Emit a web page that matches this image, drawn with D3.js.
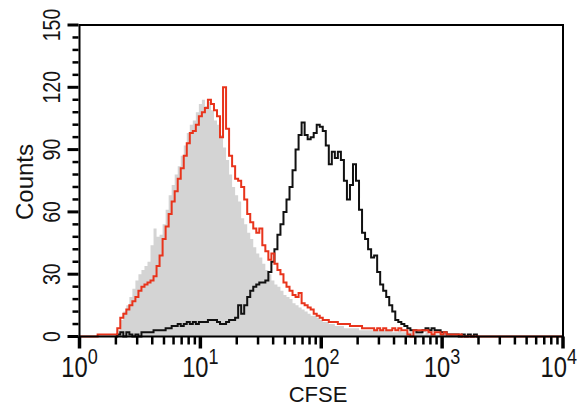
<!DOCTYPE html>
<html>
<head>
<meta charset="utf-8">
<script src="https://cdn.jsdelivr.net/npm/d3@7"></script>
<style>
  html, body { margin: 0; padding: 0; background: #fff; }
  svg { display: block; }
  text { font-family: "Liberation Sans", Arial, Helvetica, sans-serif; fill: #141414; }
</style>
</head>
<body>
<svg id="chart" width="578" height="408"></svg>
<script>
// CFSE histogram channels: log10 of the first channel and spacing between channels
const channelLog0 = 0.30;
const channelLogStep = 0.025;

// Unstained control (grey filled histogram)
const controlCounts = [
  1,3,8,12,15,19,23,27,30,32,34,36,44,52,48,49,54,61,68,73,78,
  82,87,92,98,102,104,108,112,114,111,113,109,104,102,97,91,85,78,72,68,
  65,57,54,50,47,43,40,38,35,32,30,27,25,24,22,20,19,18,16,15,
  14,13,12,11,10,10,9,8,7,7,6,6,5,5,5,4,4,4,4,4,
  3,3,3,3,3,3,3,3,3,3,3,2,2,3,2,2,2,2,2,2,
  2,1,2,1,1,1,1,1,1,0,1,0,0,0,0,0,0,0,0,0
];

// Divided cells (red line)
const dividedCounts = [
  1,4,9,11,13,15,17,19,22,24,25,26,27,29,34,39,47,53,59,65,70,
  76,81,87,93,98,99,102,106,108,110,114,112,109,106,96,120,100,87,82,76,
  75,72,66,59,55,52,50,52,44,41,37,40,35,32,30,26,24,22,20,19,
  21,16,15,14,13,11,10,9,8,8,7,7,7,6,6,6,6,5,5,5,
  5,4,4,4,4,3,4,3,4,3,3,4,3,4,3,3,1,0,3,3,
  3,3,3,2,1,2,2,1,2,1,1,1,1,1,0,0,0,0,0,0
];

// Undivided cells (black line)
const undividedCounts = [
  0,1,2,0,2,1,0,1,0,2,2,2,2,3,3,3,3,4,4,5,5,
  6,5,6,7,6,7,6,7,7,7,8,8,8,7,6,6,7,8,8,9,
  15,11,15,19,22,24,25,26,26,27,31,36,42,49,54,60,66,72,80,90,
  97,103,97,95,96,98,102,101,99,92,83,89,86,89,85,75,66,73,83,75,
  61,50,47,42,38,39,31,25,22,19,15,12,8,7,6,5,4,3,3,2,
  2,3,4,3,4,3,3,2,2,1,1,1,1,0,1,0,1,0,1,0
];

const xDecades = [0, 1, 2, 3, 4];
const yTicks = [0, 30, 60, 90, 120, 150];
const yMinorStep = 6;
const xLabel = "CFSE";
const yLabel = "Counts";

const svg = d3.select("#chart");
const W = 578;
const plotL = 79.5, plotR = 563, plotT = 25, plotB = 336.5;

const x = d3.scaleLog().domain([1, 1e4]).range([plotL, plotR]);
const y = d3.scaleLinear().domain([0, 150]).range([plotB, plotT]);

const channel = i => Math.pow(10, channelLog0 + channelLogStep * i);
const toPoints = arr => arr.map((c, i) => [channel(i), c]);

// Grey filled control histogram
const area = d3.area()
  .x(d => x(d[0])).y0(y(0)).y1(d => y(d[1]))
  .curve(d3.curveStep);
svg.append("path")
  .datum(toPoints(controlCounts))
  .attr("d", area)
  .attr("fill", "#d4d4d4");

const line = d3.line()
  .x(d => x(d[0])).y(d => y(d[1]))
  .curve(d3.curveStep);

svg.append("path")
  .datum(toPoints(undividedCounts))
  .attr("d", line)
  .attr("fill", "none")
  .attr("stroke", "#111")
  .attr("stroke-width", 2);

// Red line runs along the baseline across the full range
const redPts = [[1, 0], ...toPoints(dividedCounts), [1e4, 0]];
svg.append("path")
  .datum(redPts)
  .attr("d", line)
  .attr("fill", "none")
  .attr("stroke", "#e8341c")
  .attr("stroke-width", 2);

// Frame
svg.append("rect")
  .attr("x", plotL).attr("y", plotT)
  .attr("width", plotR - plotL).attr("height", plotB - plotT)
  .attr("fill", "none").attr("stroke", "#000").attr("stroke-width", 2);

// X axis ticks (major decades and minor 2..9)
const xMajor = xDecades.map(d => Math.pow(10, d));
const xMinor = [];
for (let d = 0; d < 4; d++) for (let m = 2; m <= 9; m++) xMinor.push(m * Math.pow(10, d));

const xAxisG = svg.append("g").attr("transform", `translate(0,${plotB})`);
xAxisG.append("g")
  .call(d3.axisBottom(x).tickValues(xMinor).tickSize(8).tickFormat("").offset(0))
  .call(g => g.select(".domain").remove())
  .call(g => g.selectAll("line").attr("stroke", "#000").attr("stroke-width", 2.5));
xAxisG.append("g")
  .call(d3.axisBottom(x).tickValues(xMajor).tickSize(12).tickFormat("").offset(0))
  .call(g => g.select(".domain").remove())
  .call(g => g.selectAll("line").attr("stroke", "#000").attr("stroke-width", 3.5));

// Y axis ticks
const yMinor = d3.range(0, 151, yMinorStep).filter(v => v % 30 !== 0);
const yAxisG = svg.append("g").attr("transform", `translate(${plotL - 1},0)`);
yAxisG.append("g")
  .call(d3.axisLeft(y).tickValues(yMinor).tickSize(6).tickFormat("").offset(0))
  .call(g => g.select(".domain").remove())
  .call(g => g.selectAll("line").attr("stroke", "#000").attr("stroke-width", 2.5));
yAxisG.append("g")
  .call(d3.axisLeft(y).tickValues(yTicks).tickSize(11).tickFormat("").offset(0))
  .call(g => g.select(".domain").remove())
  .call(g => g.selectAll("line").attr("stroke", "#000").attr("stroke-width", 3));

// X tick labels: 10 with superscript exponent, kept inside the page
xDecades.forEach(d => {
  const t = svg.append("text")
    .attr("text-anchor", "middle")
    .style("font-size", "29px");
  t.append("tspan").text("10");
  t.append("tspan").attr("dy", -13).style("font-size", "22px").text(d);
  const sx = 0.82;
  const halfW = t.node().getComputedTextLength() * sx / 2;
  const cx = Math.min(x(Math.pow(10, d)), W - 1 - halfW);
  t.attr("transform", `translate(${cx},377) scale(${sx},1)`);
});

// Y tick labels, rotated
yTicks.forEach(v => {
  svg.append("text")
    .attr("transform", `translate(60,${y(v)}) rotate(-90) scale(0.85,1)`)
    .attr("text-anchor", "middle")
    .style("font-size", "23px")
    .text(v);
});

svg.append("text")
  .attr("transform", "translate(33,182) rotate(-90)")
  .attr("text-anchor", "middle")
  .style("font-size", "24px")
  .text(yLabel);

svg.append("text")
  .attr("x", 318).attr("y", 402)
  .attr("text-anchor", "middle")
  .style("font-size", "22px")
  .text(xLabel);
</script>
</body>
</html>
